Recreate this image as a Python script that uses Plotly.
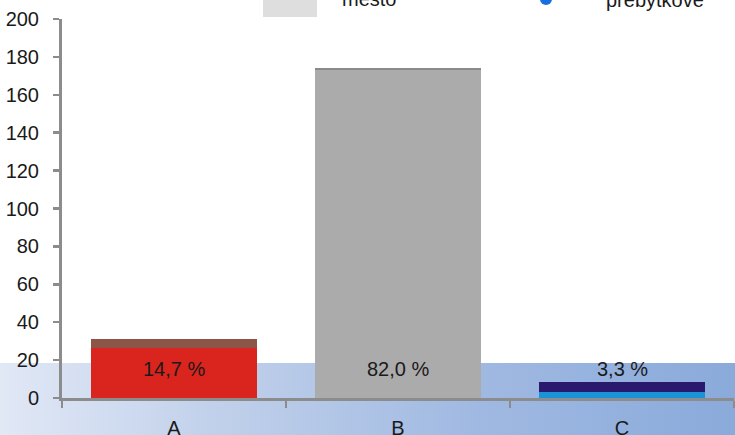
import base64
import plotly.graph_objects as go

# ---- data ----
categories = ["A", "B", "C"]
lower_values = [26.5, 173.0, 3.3]
upper_values = [4.5, 1.4, 5.3]
lower_colors = ["#d9251d", "#ababab", "#1b93d8"]
upper_colors = ["#8b5547", "#8a8a8a", "#2a186f"]
share_labels = ["14,7 %", "82,0 %", "3,3 %"]
label_y = 15.5
y_ticks = [0, 20, 40, 60, 80, 100, 120, 140, 160, 180, 200]
legend_texts = ["mesto", "prebytkové"]

FONT = "Liberation Sans, Arial, sans-serif"
AXIS = "#8c8c8c"

fig = go.Figure()
fig.add_trace(go.Bar(x=categories, y=lower_values, marker=dict(color=lower_colors, line=dict(width=0)),
                     showlegend=False, hoverinfo="skip"))
fig.add_trace(go.Bar(x=categories, y=upper_values, marker=dict(color=upper_colors, line=dict(width=0)),
                     showlegend=False, hoverinfo="skip"))

for c, t in zip(categories, share_labels):
    fig.add_annotation(x=c, y=label_y, text=t, showarrow=False,
                       font=dict(family=FONT, size=20, color="#1a1a1a"),
                       xanchor="center", yanchor="middle")

# background gradient band (decoration)
svg = ('<svg xmlns="http://www.w3.org/2000/svg" width="735" height="72" preserveAspectRatio="none">'
       '<defs><linearGradient id="g" x1="0" y1="0" x2="1" y2="0">'
       '<stop offset="0" stop-color="#e1e8f6"/>'
       '<stop offset="0.3" stop-color="#c0d0ea"/>'
       '<stop offset="0.65" stop-color="#a0b9e2"/>'
       '<stop offset="1" stop-color="#8aaada"/>'
       '</linearGradient></defs>'
       '<rect width="735" height="72" fill="url(#g)"/></svg>')
src = "data:image/svg+xml;base64," + base64.b64encode(svg.encode()).decode()

L, R, T, B = 62, 1, 19, 37
W, H = 735, 435
pw, ph = W - L - R, H - T - B

def px_x(px):
    return (px - L) / pw

def px_y(py):
    return (H - B - py) / ph

fig.add_layout_image(source=src, xref="paper", yref="paper",
                     x=px_x(0), y=px_y(363), sizex=W / pw, sizey=(435 - 363) / ph,
                     xanchor="left", yanchor="top", sizing="stretch", layer="below")

# clipped legend fragments at top
fig.add_shape(type="rect", xref="paper", yref="paper",
              x0=px_x(263), x1=px_x(317), y0=px_y(17), y1=px_y(-20),
              fillcolor="#dedede", line=dict(width=0))
fig.add_shape(type="circle", xref="paper", yref="paper",
              x0=px_x(540), x1=px_x(552), y0=px_y(5), y1=px_y(-7),
              fillcolor="#1a6fe0", line=dict(width=0))
fig.add_annotation(xref="paper", yref="paper", x=px_x(340), y=px_y(-1), text=legend_texts[0],
                   showarrow=False, xanchor="left", yanchor="middle",
                   font=dict(family=FONT, size=20, color="#1a1a1a"))
fig.add_annotation(xref="paper", yref="paper", x=px_x(604), y=px_y(0), text=legend_texts[1],
                   showarrow=False, xanchor="left", yanchor="middle",
                   font=dict(family=FONT, size=20, color="#1a1a1a"))

fig.update_layout(
    width=W, height=H,
    margin=dict(l=L, r=R, t=T, b=B, pad=0, autoexpand=False),
    barmode="stack", bargap=0.255,
    paper_bgcolor="white", plot_bgcolor="rgba(0,0,0,0)",
    font=dict(family=FONT, size=20, color="#1a1a1a"),
    xaxis=dict(type="category", range=[-0.5, 2.5], showline=True, linecolor=AXIS, linewidth=3,
               ticks="outside", tickson="boundaries", ticklen=7, tickwidth=2.5, tickcolor=AXIS,
               showgrid=False, zeroline=False, ticklabelstandoff=10, automargin=False,
               tickfont=dict(family=FONT, size=20, color="#1a1a1a")),
    yaxis=dict(range=[0, 200], tickvals=y_ticks, showline=True, linecolor=AXIS, linewidth=3,
               ticks="outside", ticklen=6, tickwidth=2.5, tickcolor=AXIS,
               showgrid=False, zeroline=False, ticklabelstandoff=10, automargin=False,
               tickfont=dict(family=FONT, size=20, color="#1a1a1a")),
)

fig.write_html("out.html", config={"displayModeBar": False, "staticPlot": True},
               post_script="document.body.style.margin='0';document.body.style.overflow='hidden';")
